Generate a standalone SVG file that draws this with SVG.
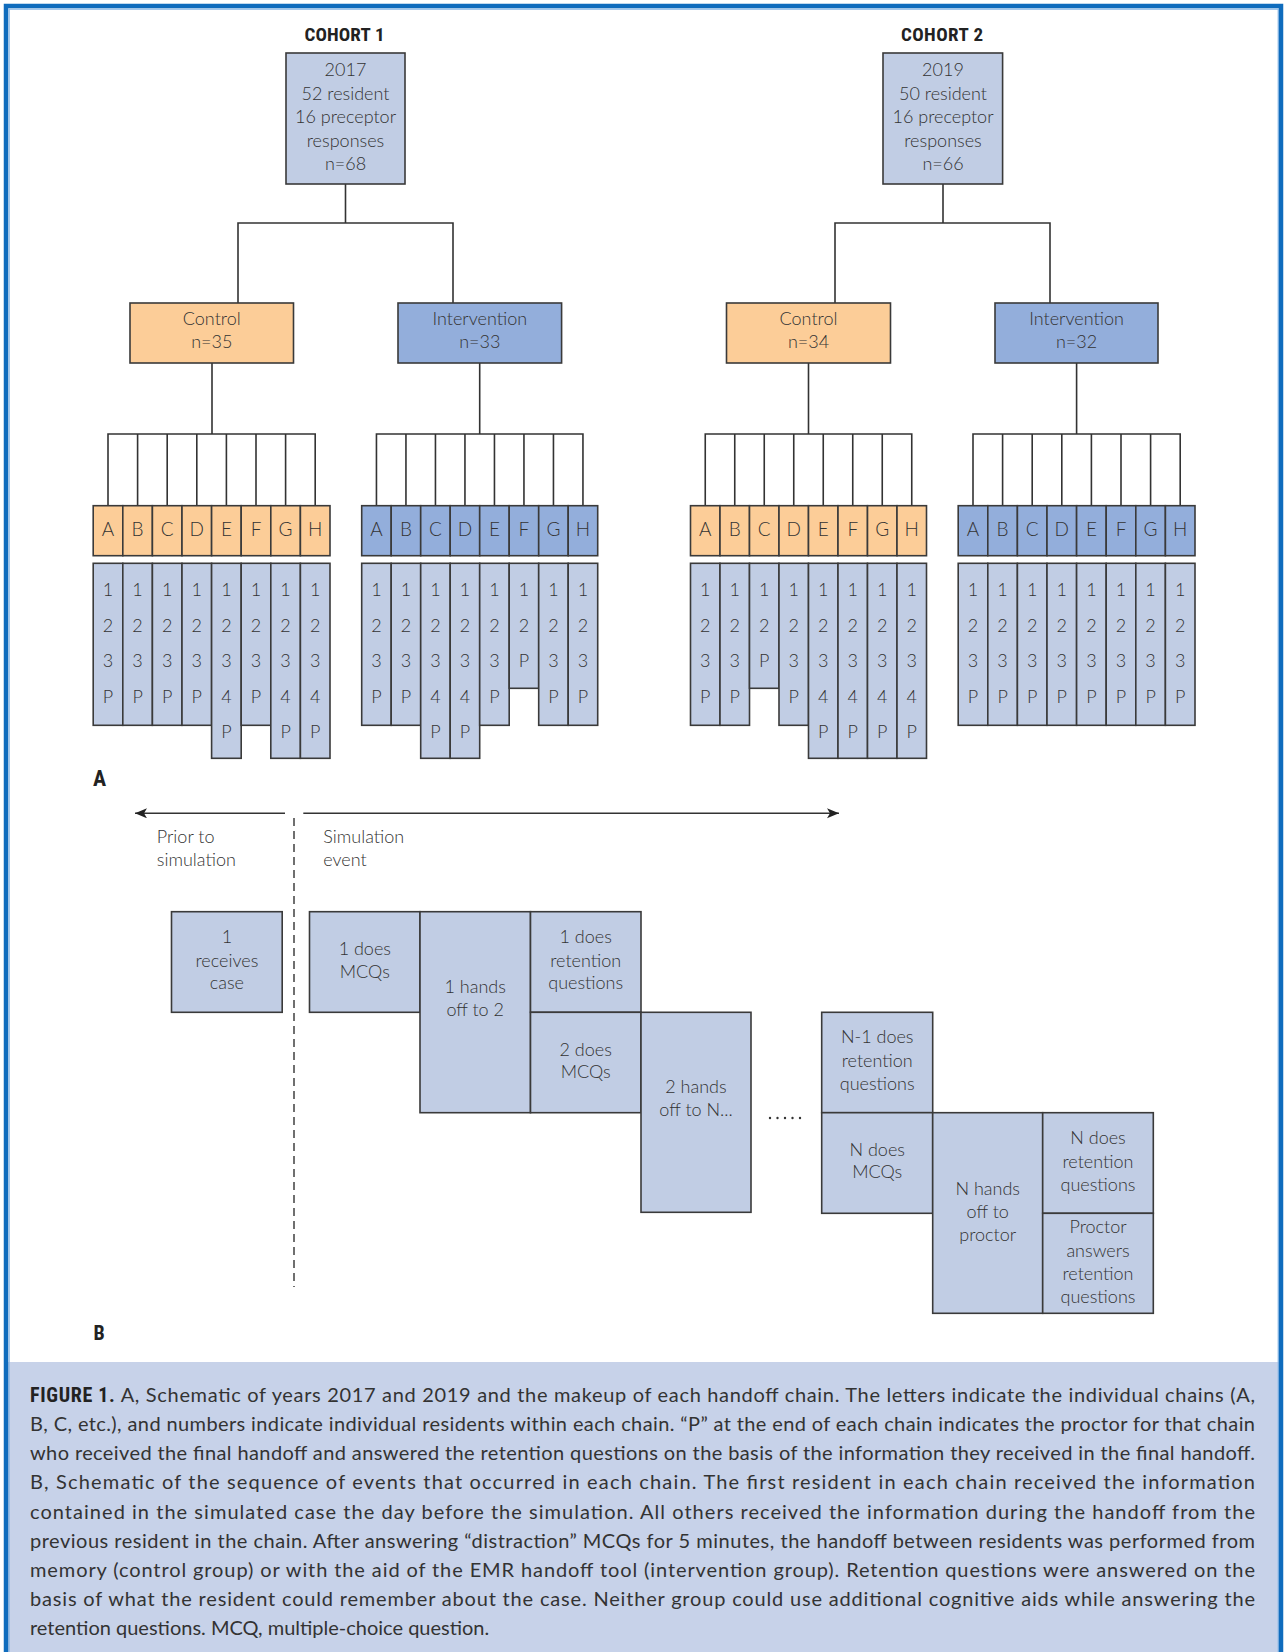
<svg xmlns="http://www.w3.org/2000/svg" width="1286" height="1652" viewBox="0 0 1286 1652">
<style>
.t{font-family:Lato,"Open Sans","Liberation Sans",sans-serif;font-weight:300;fill:#333;text-anchor:middle;font-size:18px}
.tl{font-family:Lato,"Open Sans","Liberation Sans",sans-serif;font-weight:300;fill:#333;font-size:18px}
.h{font-family:"Liberation Sans Narrow","Roboto Condensed",Roboto,"Liberation Sans",sans-serif;font-weight:bold;fill:#222;font-size:19px}
.cap{font-family:Lato,"Open Sans","Liberation Sans",sans-serif;font-weight:400;fill:#333;font-size:20px}
.lb{font-size:19px}
.lt{fill:#c1cde4;stroke:#3a3a3a;stroke-width:1.6}
.iv{fill:#93aedb;stroke:#3a3a3a;stroke-width:1.6}
.or{fill:#fccd98;stroke:#3a3a3a;stroke-width:1.6}
.ln{fill:none;stroke:#333;stroke-width:1.6}
</style>
<defs>
<marker id="ah" markerUnits="userSpaceOnUse" markerWidth="13" markerHeight="11" refX="12" refY="5" orient="auto">
<path d="M0,0 L12,5 L0,10 L3,5 z" fill="#222"/>
</marker>
</defs>
<rect x="0" y="0" width="1286" height="1652" fill="#fff"/>
<rect x="8" y="1362" width="1272" height="300" fill="#c7d2e9"/>
<rect x="9.2" y="9.2" width="1269" height="1700" fill="none" stroke="#8fbbe8" stroke-width="1.2"/>
<rect x="6" y="6" width="1275" height="1700" fill="none" stroke="#0f6cbd" stroke-width="4.5"/>

<g id="connectors">
<path class="ln" d="M345.5,184 V223 M238,303 V223 H453 V303"/>
<path class="ln" d="M943,184 V223 M835,303 V223 H1050 V303"/>
<path class="ln" d="M212,363 V434 M108,505.7 V434 H315.2 V505.7 M137.6,434 V505.7 M167.2,434 V505.7 M196.8,434 V505.7 M226.4,434 V505.7 M256,434 V505.7 M285.6,434 V505.7"/>
<path class="ln" d="M479.7,363 V434 M376.45,505.7 V434 H582.95 V505.7 M405.95,434 V505.7 M435.45,434 V505.7 M464.95,434 V505.7 M494.45,434 V505.7 M523.95,434 V505.7 M553.45,434 V505.7"/>
<path class="ln" d="M808.5,363 V434 M705.25,505.7 V434 H911.75 V505.7 M734.75,434 V505.7 M764.25,434 V505.7 M793.75,434 V505.7 M823.25,434 V505.7 M852.75,434 V505.7 M882.25,434 V505.7"/>
<path class="ln" d="M1076.6,363 V434 M973,505.7 V434 H1180.2 V505.7 M1002.6,434 V505.7 M1032.2,434 V505.7 M1061.8,434 V505.7 M1091.4,434 V505.7 M1121,434 V505.7 M1150.6,434 V505.7"/>
<line class="ln" x1="285" y1="813.3" x2="135" y2="813.3" marker-end="url(#ah)"/>
<line class="ln" x1="303.3" y1="813.3" x2="839" y2="813.3" marker-end="url(#ah)"/>
<line x1="294" y1="818" x2="294" y2="1287" stroke="#333" stroke-width="1.4" stroke-dasharray="8,5"/>
</g>

<text class="h" x="344.5" y="40.7" text-anchor="middle" textLength="80">COHORT 1</text>
<text class="h" x="942" y="40.7" text-anchor="middle" textLength="82">COHORT 2</text>

<g id="cohort1">
<rect class="lt" x="286" y="53" width="119" height="131"/>
<text class="t"><tspan x="345.5" y="76">2017</tspan><tspan x="345.5" y="99.5">52 resident</tspan><tspan x="345.5" y="123">16 preceptor</tspan><tspan x="345.5" y="146.5">responses</tspan><tspan x="345.5" y="170">n=68</tspan></text>
</g>
<g id="cohort2">
<rect class="lt" x="883" y="53" width="119.6" height="131"/>
<text class="t"><tspan x="943" y="76">2019</tspan><tspan x="943" y="99.5">50 resident</tspan><tspan x="943" y="123">16 preceptor</tspan><tspan x="943" y="146.5">responses</tspan><tspan x="943" y="170">n=66</tspan></text>
</g>
<g id="control1">
<rect class="or" x="130" y="303" width="163.5" height="60"/>
<text class="t"><tspan x="211.75" y="325">Control</tspan><tspan x="211.75" y="348">n=35</tspan></text>
</g>
<g id="intervention1">
<rect class="iv" x="398" y="303" width="163.6" height="60"/>
<text class="t"><tspan x="479.8" y="325">Intervention</tspan><tspan x="479.8" y="348">n=33</tspan></text>
</g>
<g id="control2">
<rect class="or" x="726.5" y="303" width="164" height="60"/>
<text class="t"><tspan x="808.5" y="325">Control</tspan><tspan x="808.5" y="348">n=34</tspan></text>
</g>
<g id="intervention2">
<rect class="iv" x="995" y="303" width="163" height="60"/>
<text class="t"><tspan x="1076.6" y="325">Intervention</tspan><tspan x="1076.6" y="348">n=32</tspan></text>
</g>

<!-- Cohort 1 control chains -->
<g id="c1c-A"><rect class="or" x="93.2" y="505.7" width="29.6" height="50"/><text class="t lb" x="108" y="535.7">A</text><rect class="lt" x="93.2" y="563.3" width="29.6" height="162"/><text class="t"><tspan x="108" y="596">1</tspan><tspan x="108" y="631.5">2</tspan><tspan x="108" y="667">3</tspan><tspan x="108" y="702.5">P</tspan></text></g>
<g id="c1c-B"><rect class="or" x="122.8" y="505.7" width="29.6" height="50"/><text class="t lb" x="137.6" y="535.7">B</text><rect class="lt" x="122.8" y="563.3" width="29.6" height="162"/><text class="t"><tspan x="137.6" y="596">1</tspan><tspan x="137.6" y="631.5">2</tspan><tspan x="137.6" y="667">3</tspan><tspan x="137.6" y="702.5">P</tspan></text></g>
<g id="c1c-C"><rect class="or" x="152.4" y="505.7" width="29.6" height="50"/><text class="t lb" x="167.2" y="535.7">C</text><rect class="lt" x="152.4" y="563.3" width="29.6" height="162"/><text class="t"><tspan x="167.2" y="596">1</tspan><tspan x="167.2" y="631.5">2</tspan><tspan x="167.2" y="667">3</tspan><tspan x="167.2" y="702.5">P</tspan></text></g>
<g id="c1c-D"><rect class="or" x="182" y="505.7" width="29.6" height="50"/><text class="t lb" x="196.8" y="535.7">D</text><rect class="lt" x="182" y="563.3" width="29.6" height="162"/><text class="t"><tspan x="196.8" y="596">1</tspan><tspan x="196.8" y="631.5">2</tspan><tspan x="196.8" y="667">3</tspan><tspan x="196.8" y="702.5">P</tspan></text></g>
<g id="c1c-E"><rect class="or" x="211.6" y="505.7" width="29.6" height="50"/><text class="t lb" x="226.4" y="535.7">E</text><rect class="lt" x="211.6" y="563.3" width="29.6" height="195"/><text class="t"><tspan x="226.4" y="596">1</tspan><tspan x="226.4" y="631.5">2</tspan><tspan x="226.4" y="667">3</tspan><tspan x="226.4" y="702.5">4</tspan><tspan x="226.4" y="738">P</tspan></text></g>
<g id="c1c-F"><rect class="or" x="241.2" y="505.7" width="29.6" height="50"/><text class="t lb" x="256" y="535.7">F</text><rect class="lt" x="241.2" y="563.3" width="29.6" height="162"/><text class="t"><tspan x="256" y="596">1</tspan><tspan x="256" y="631.5">2</tspan><tspan x="256" y="667">3</tspan><tspan x="256" y="702.5">P</tspan></text></g>
<g id="c1c-G"><rect class="or" x="270.8" y="505.7" width="29.6" height="50"/><text class="t lb" x="285.6" y="535.7">G</text><rect class="lt" x="270.8" y="563.3" width="29.6" height="195"/><text class="t"><tspan x="285.6" y="596">1</tspan><tspan x="285.6" y="631.5">2</tspan><tspan x="285.6" y="667">3</tspan><tspan x="285.6" y="702.5">4</tspan><tspan x="285.6" y="738">P</tspan></text></g>
<g id="c1c-H"><rect class="or" x="300.4" y="505.7" width="29.6" height="50"/><text class="t lb" x="315.2" y="535.7">H</text><rect class="lt" x="300.4" y="563.3" width="29.6" height="195"/><text class="t"><tspan x="315.2" y="596">1</tspan><tspan x="315.2" y="631.5">2</tspan><tspan x="315.2" y="667">3</tspan><tspan x="315.2" y="702.5">4</tspan><tspan x="315.2" y="738">P</tspan></text></g>

<!-- Cohort 1 intervention chains -->
<g id="c1i-A"><rect class="iv" x="361.7" y="505.7" width="29.5" height="50"/><text class="t lb" x="376.45" y="535.7">A</text><rect class="lt" x="361.7" y="563.3" width="29.5" height="162"/><text class="t"><tspan x="376.45" y="596">1</tspan><tspan x="376.45" y="631.5">2</tspan><tspan x="376.45" y="667">3</tspan><tspan x="376.45" y="702.5">P</tspan></text></g>
<g id="c1i-B"><rect class="iv" x="391.2" y="505.7" width="29.5" height="50"/><text class="t lb" x="405.95" y="535.7">B</text><rect class="lt" x="391.2" y="563.3" width="29.5" height="162"/><text class="t"><tspan x="405.95" y="596">1</tspan><tspan x="405.95" y="631.5">2</tspan><tspan x="405.95" y="667">3</tspan><tspan x="405.95" y="702.5">P</tspan></text></g>
<g id="c1i-C"><rect class="iv" x="420.7" y="505.7" width="29.5" height="50"/><text class="t lb" x="435.45" y="535.7">C</text><rect class="lt" x="420.7" y="563.3" width="29.5" height="195"/><text class="t"><tspan x="435.45" y="596">1</tspan><tspan x="435.45" y="631.5">2</tspan><tspan x="435.45" y="667">3</tspan><tspan x="435.45" y="702.5">4</tspan><tspan x="435.45" y="738">P</tspan></text></g>
<g id="c1i-D"><rect class="iv" x="450.2" y="505.7" width="29.5" height="50"/><text class="t lb" x="464.95" y="535.7">D</text><rect class="lt" x="450.2" y="563.3" width="29.5" height="195"/><text class="t"><tspan x="464.95" y="596">1</tspan><tspan x="464.95" y="631.5">2</tspan><tspan x="464.95" y="667">3</tspan><tspan x="464.95" y="702.5">4</tspan><tspan x="464.95" y="738">P</tspan></text></g>
<g id="c1i-E"><rect class="iv" x="479.7" y="505.7" width="29.5" height="50"/><text class="t lb" x="494.45" y="535.7">E</text><rect class="lt" x="479.7" y="563.3" width="29.5" height="162"/><text class="t"><tspan x="494.45" y="596">1</tspan><tspan x="494.45" y="631.5">2</tspan><tspan x="494.45" y="667">3</tspan><tspan x="494.45" y="702.5">P</tspan></text></g>
<g id="c1i-F"><rect class="iv" x="509.2" y="505.7" width="29.5" height="50"/><text class="t lb" x="523.95" y="535.7">F</text><rect class="lt" x="509.2" y="563.3" width="29.5" height="125"/><text class="t"><tspan x="523.95" y="596">1</tspan><tspan x="523.95" y="631.5">2</tspan><tspan x="523.95" y="667">P</tspan></text></g>
<g id="c1i-G"><rect class="iv" x="538.7" y="505.7" width="29.5" height="50"/><text class="t lb" x="553.45" y="535.7">G</text><rect class="lt" x="538.7" y="563.3" width="29.5" height="162"/><text class="t"><tspan x="553.45" y="596">1</tspan><tspan x="553.45" y="631.5">2</tspan><tspan x="553.45" y="667">3</tspan><tspan x="553.45" y="702.5">P</tspan></text></g>
<g id="c1i-H"><rect class="iv" x="568.2" y="505.7" width="29.5" height="50"/><text class="t lb" x="582.95" y="535.7">H</text><rect class="lt" x="568.2" y="563.3" width="29.5" height="162"/><text class="t"><tspan x="582.95" y="596">1</tspan><tspan x="582.95" y="631.5">2</tspan><tspan x="582.95" y="667">3</tspan><tspan x="582.95" y="702.5">P</tspan></text></g>

<!-- Cohort 2 control chains -->
<g id="c2c-A"><rect class="or" x="690.5" y="505.7" width="29.5" height="50"/><text class="t lb" x="705.25" y="535.7">A</text><rect class="lt" x="690.5" y="563.3" width="29.5" height="162"/><text class="t"><tspan x="705.25" y="596">1</tspan><tspan x="705.25" y="631.5">2</tspan><tspan x="705.25" y="667">3</tspan><tspan x="705.25" y="702.5">P</tspan></text></g>
<g id="c2c-B"><rect class="or" x="720" y="505.7" width="29.5" height="50"/><text class="t lb" x="734.75" y="535.7">B</text><rect class="lt" x="720" y="563.3" width="29.5" height="162"/><text class="t"><tspan x="734.75" y="596">1</tspan><tspan x="734.75" y="631.5">2</tspan><tspan x="734.75" y="667">3</tspan><tspan x="734.75" y="702.5">P</tspan></text></g>
<g id="c2c-C"><rect class="or" x="749.5" y="505.7" width="29.5" height="50"/><text class="t lb" x="764.25" y="535.7">C</text><rect class="lt" x="749.5" y="563.3" width="29.5" height="125"/><text class="t"><tspan x="764.25" y="596">1</tspan><tspan x="764.25" y="631.5">2</tspan><tspan x="764.25" y="667">P</tspan></text></g>
<g id="c2c-D"><rect class="or" x="779" y="505.7" width="29.5" height="50"/><text class="t lb" x="793.75" y="535.7">D</text><rect class="lt" x="779" y="563.3" width="29.5" height="162"/><text class="t"><tspan x="793.75" y="596">1</tspan><tspan x="793.75" y="631.5">2</tspan><tspan x="793.75" y="667">3</tspan><tspan x="793.75" y="702.5">P</tspan></text></g>
<g id="c2c-E"><rect class="or" x="808.5" y="505.7" width="29.5" height="50"/><text class="t lb" x="823.25" y="535.7">E</text><rect class="lt" x="808.5" y="563.3" width="29.5" height="195"/><text class="t"><tspan x="823.25" y="596">1</tspan><tspan x="823.25" y="631.5">2</tspan><tspan x="823.25" y="667">3</tspan><tspan x="823.25" y="702.5">4</tspan><tspan x="823.25" y="738">P</tspan></text></g>
<g id="c2c-F"><rect class="or" x="838" y="505.7" width="29.5" height="50"/><text class="t lb" x="852.75" y="535.7">F</text><rect class="lt" x="838" y="563.3" width="29.5" height="195"/><text class="t"><tspan x="852.75" y="596">1</tspan><tspan x="852.75" y="631.5">2</tspan><tspan x="852.75" y="667">3</tspan><tspan x="852.75" y="702.5">4</tspan><tspan x="852.75" y="738">P</tspan></text></g>
<g id="c2c-G"><rect class="or" x="867.5" y="505.7" width="29.5" height="50"/><text class="t lb" x="882.25" y="535.7">G</text><rect class="lt" x="867.5" y="563.3" width="29.5" height="195"/><text class="t"><tspan x="882.25" y="596">1</tspan><tspan x="882.25" y="631.5">2</tspan><tspan x="882.25" y="667">3</tspan><tspan x="882.25" y="702.5">4</tspan><tspan x="882.25" y="738">P</tspan></text></g>
<g id="c2c-H"><rect class="or" x="897" y="505.7" width="29.5" height="50"/><text class="t lb" x="911.75" y="535.7">H</text><rect class="lt" x="897" y="563.3" width="29.5" height="195"/><text class="t"><tspan x="911.75" y="596">1</tspan><tspan x="911.75" y="631.5">2</tspan><tspan x="911.75" y="667">3</tspan><tspan x="911.75" y="702.5">4</tspan><tspan x="911.75" y="738">P</tspan></text></g>

<!-- Cohort 2 intervention chains -->
<g id="c2i-A"><rect class="iv" x="958.2" y="505.7" width="29.6" height="50"/><text class="t lb" x="973" y="535.7">A</text><rect class="lt" x="958.2" y="563.3" width="29.6" height="162"/><text class="t"><tspan x="973" y="596">1</tspan><tspan x="973" y="631.5">2</tspan><tspan x="973" y="667">3</tspan><tspan x="973" y="702.5">P</tspan></text></g>
<g id="c2i-B"><rect class="iv" x="987.8" y="505.7" width="29.6" height="50"/><text class="t lb" x="1002.6" y="535.7">B</text><rect class="lt" x="987.8" y="563.3" width="29.6" height="162"/><text class="t"><tspan x="1002.6" y="596">1</tspan><tspan x="1002.6" y="631.5">2</tspan><tspan x="1002.6" y="667">3</tspan><tspan x="1002.6" y="702.5">P</tspan></text></g>
<g id="c2i-C"><rect class="iv" x="1017.4" y="505.7" width="29.6" height="50"/><text class="t lb" x="1032.2" y="535.7">C</text><rect class="lt" x="1017.4" y="563.3" width="29.6" height="162"/><text class="t"><tspan x="1032.2" y="596">1</tspan><tspan x="1032.2" y="631.5">2</tspan><tspan x="1032.2" y="667">3</tspan><tspan x="1032.2" y="702.5">P</tspan></text></g>
<g id="c2i-D"><rect class="iv" x="1047" y="505.7" width="29.6" height="50"/><text class="t lb" x="1061.8" y="535.7">D</text><rect class="lt" x="1047" y="563.3" width="29.6" height="162"/><text class="t"><tspan x="1061.8" y="596">1</tspan><tspan x="1061.8" y="631.5">2</tspan><tspan x="1061.8" y="667">3</tspan><tspan x="1061.8" y="702.5">P</tspan></text></g>
<g id="c2i-E"><rect class="iv" x="1076.6" y="505.7" width="29.6" height="50"/><text class="t lb" x="1091.4" y="535.7">E</text><rect class="lt" x="1076.6" y="563.3" width="29.6" height="162"/><text class="t"><tspan x="1091.4" y="596">1</tspan><tspan x="1091.4" y="631.5">2</tspan><tspan x="1091.4" y="667">3</tspan><tspan x="1091.4" y="702.5">P</tspan></text></g>
<g id="c2i-F"><rect class="iv" x="1106.2" y="505.7" width="29.6" height="50"/><text class="t lb" x="1121" y="535.7">F</text><rect class="lt" x="1106.2" y="563.3" width="29.6" height="162"/><text class="t"><tspan x="1121" y="596">1</tspan><tspan x="1121" y="631.5">2</tspan><tspan x="1121" y="667">3</tspan><tspan x="1121" y="702.5">P</tspan></text></g>
<g id="c2i-G"><rect class="iv" x="1135.8" y="505.7" width="29.6" height="50"/><text class="t lb" x="1150.6" y="535.7">G</text><rect class="lt" x="1135.8" y="563.3" width="29.6" height="162"/><text class="t"><tspan x="1150.6" y="596">1</tspan><tspan x="1150.6" y="631.5">2</tspan><tspan x="1150.6" y="667">3</tspan><tspan x="1150.6" y="702.5">P</tspan></text></g>
<g id="c2i-H"><rect class="iv" x="1165.4" y="505.7" width="29.6" height="50"/><text class="t lb" x="1180.2" y="535.7">H</text><rect class="lt" x="1165.4" y="563.3" width="29.6" height="162"/><text class="t"><tspan x="1180.2" y="596">1</tspan><tspan x="1180.2" y="631.5">2</tspan><tspan x="1180.2" y="667">3</tspan><tspan x="1180.2" y="702.5">P</tspan></text></g>

<text class="h" x="93" y="786" style="font-size:22px">A</text>
<text class="tl" x="156.8" y="843.3">Prior to</text>
<text class="tl" x="156.8" y="866">simulation</text>
<text class="tl" x="323.3" y="843.3">Simulation</text>
<text class="tl" x="323.3" y="866">event</text>

<g id="b-receive"><rect class="lt" x="171.5" y="911.7" width="110.7" height="100.6"/><text class="t"><tspan x="226.9" y="943">1</tspan><tspan x="226.9" y="966.7">receives</tspan><tspan x="226.9" y="989.3">case</tspan></text></g>
<g id="b-1mcq"><rect class="lt" x="309.5" y="911.7" width="110.5" height="100.6"/><text class="t"><tspan x="364.8" y="955">1 does</tspan><tspan x="364.8" y="977.5">MCQs</tspan></text></g>
<g id="b-1hand"><rect class="lt" x="420" y="911.7" width="110.5" height="201"/><text class="t"><tspan x="475.2" y="993.3">1 hands</tspan><tspan x="475.2" y="1016">off to 2</tspan></text></g>
<g id="b-1ret"><rect class="lt" x="530.5" y="911.7" width="110.5" height="100.6"/><text class="t"><tspan x="585.7" y="943.3">1 does</tspan><tspan x="585.7" y="966.7">retention</tspan><tspan x="585.7" y="989.3">questions</tspan></text></g>
<g id="b-2mcq"><rect class="lt" x="530.5" y="1012.3" width="110.5" height="100.4"/><text class="t"><tspan x="585.7" y="1056">2 does</tspan><tspan x="585.7" y="1078.3">MCQs</tspan></text></g>
<g id="b-2hand"><rect class="lt" x="641" y="1012.3" width="110" height="200"/><text class="t"><tspan x="696" y="1093.3">2 hands</tspan><tspan x="696" y="1116">off to N...</tspan></text></g>
<g id="dots" fill="#333"><circle cx="770" cy="1118" r="1.2"/><circle cx="777.5" cy="1118" r="1.2"/><circle cx="785" cy="1118" r="1.2"/><circle cx="792.5" cy="1118" r="1.2"/><circle cx="800" cy="1118" r="1.2"/></g>
<g id="b-N1ret"><rect class="lt" x="821.7" y="1012.3" width="111" height="100.4"/><text class="t"><tspan x="877.2" y="1043.3">N-1 does</tspan><tspan x="877.2" y="1066.7">retention</tspan><tspan x="877.2" y="1090">questions</tspan></text></g>
<g id="b-Nmcq"><rect class="lt" x="821.7" y="1112.7" width="111" height="100.6"/><text class="t"><tspan x="877.2" y="1155.7">N does</tspan><tspan x="877.2" y="1178.3">MCQs</tspan></text></g>
<g id="b-Nhand"><rect class="lt" x="932.7" y="1112.7" width="110" height="200.6"/><text class="t"><tspan x="987.7" y="1195">N hands</tspan><tspan x="987.7" y="1217.7">off to</tspan><tspan x="987.7" y="1240.7">proctor</tspan></text></g>
<g id="b-Nret"><rect class="lt" x="1042.7" y="1112.7" width="110.6" height="100.6"/><text class="t"><tspan x="1098" y="1144">N does</tspan><tspan x="1098" y="1167.7">retention</tspan><tspan x="1098" y="1190.7">questions</tspan></text></g>
<g id="b-proctor"><rect class="lt" x="1042.7" y="1213.3" width="110.6" height="100"/><text class="t"><tspan x="1098" y="1233.3">Proctor</tspan><tspan x="1098" y="1256.7">answers</tspan><tspan x="1098" y="1280">retention</tspan><tspan x="1098" y="1302.7">questions</tspan></text></g>

<text class="h" x="93.5" y="1340" style="font-size:20px">B</text>

<g id="caption">
<text class="cap" x="30" y="1401.7" textLength="1225" lengthAdjust="spacing"><tspan class="h" style="font-size:20px">FIGURE 1.</tspan> A, Schematic of years 2017 and 2019 and the makeup of each handoff chain. The letters indicate the individual chains (A,</text>
<text class="cap" x="30" y="1430.9" textLength="1225" lengthAdjust="spacing">B, C, etc.), and numbers indicate individual residents within each chain. “P” at the end of each chain indicates the proctor for that chain</text>
<text class="cap" x="30" y="1460.1" textLength="1225" lengthAdjust="spacing">who received the final handoff and answered the retention questions on the basis of the information they received in the final handoff.</text>
<text class="cap" x="30" y="1489.3" textLength="1225" lengthAdjust="spacing">B, Schematic of the sequence of events that occurred in each chain. The first resident in each chain received the information</text>
<text class="cap" x="30" y="1518.5" textLength="1225" lengthAdjust="spacing">contained in the simulated case the day before the simulation. All others received the information during the handoff from the</text>
<text class="cap" x="30" y="1547.7" textLength="1225" lengthAdjust="spacing">previous resident in the chain. After answering “distraction” MCQs for 5 minutes, the handoff between residents was performed from</text>
<text class="cap" x="30" y="1576.9" textLength="1225" lengthAdjust="spacing">memory (control group) or with the aid of the EMR handoff tool (intervention group). Retention questions were answered on the</text>
<text class="cap" x="30" y="1606.1" textLength="1225" lengthAdjust="spacing">basis of what the resident could remember about the case. Neither group could use additional cognitive aids while answering the</text>
<text class="cap" x="30" y="1635.3">retention questions. MCQ, multiple-choice question.</text>
</g>
</svg>
